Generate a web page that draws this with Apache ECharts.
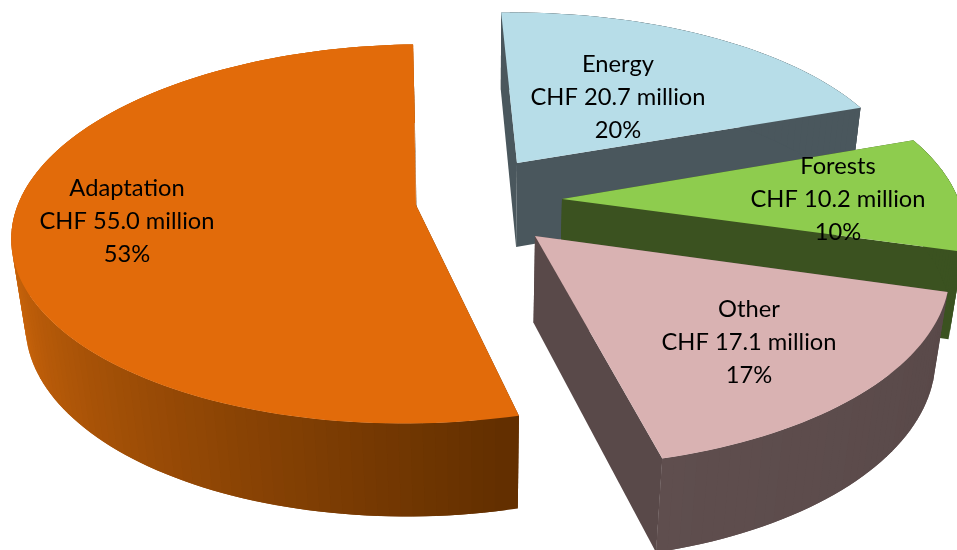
<!DOCTYPE html>
<html><head><meta charset="utf-8">
<style>html,body{margin:0;padding:0;background:#fff}#c{width:957px;height:550px}</style>
<script src="https://cdn.jsdelivr.net/npm/echarts@6/dist/echarts.min.js"></script>
</head><body><div id="c"></div>
<script>
// Data (clockwise from the top of the pie)
const categories = ['Energy', 'Forests', 'Other', 'Adaptation'];
const amounts = [20.7, 10.2, 17.1, 55.0];
const percents = ['20%', '10%', '17%', '53%'];

// Styling
const topColors = ['#B7DDE8', '#8ECC4E', '#D9B2B2', '#E26B0A'];
const wallFrom = ['#4A575D', '#3B5220', '#594949', '#622F00'];
const wallTo = ['#4A575D', '#3B5220', '#5F4E4E', '#CC650B'];
const radialWall = ['#4A575D', '#3B5220', '#594949', '#622F00'];
const apexes = [[517, 163], [562, 199], [535, 236], [416, 205]];
const labelAt = [[618, 97], [838, 199], [749, 342], [127, 221]];
const drawOrder = [3, 0, 1, 2];

// Projection of the pie plane
const CX = 485, CY = 201, RX = 397, SY = 184, P = 0.152, Q = 0.03, DEPTH = 88, START = -2;
const total = amounts.reduce((a, b) => a + b, 0);
function project(u, v, z) {
  const w = 1 - P * v + Q * z;
  return [CX + RX * u / w, CY + (SY * v + DEPTH * z) / w];
}
function toDisc(p) {
  const a = (p[1] - CY) / SY, v = a / (1 + P * a);
  return [(p[0] - CX) / RX * (1 - P * v), v];
}
let acc = START;
const spans = amounts.map(x => { const s = acc; acc += x / total * 360; return [s, acc]; });

function renderItem(params, api) {
  const i = drawOrder[params.dataIndex];
  const [a0, a1] = spans[i];
  const [u0, v0] = toDisc(apexes[i]);
  const rim = d => { const t = d * Math.PI / 180; return [u0 + Math.sin(t), v0 - Math.cos(t)]; };
  const steps = Math.ceil((a1 - a0) / 1.5);
  const angs = []; for (let k = 0; k <= steps; k++) angs.push(a0 + (a1 - a0) * k / steps);
  const children = [];
  const poly = (pts, color) => children.push({
    type: 'polygon', shape: { points: pts }, style: { fill: color }, silent: true
  });
  const top = uv => project(uv[0], uv[1], 0), bot = uv => project(uv[0], uv[1], 1);
  const apex = [u0, v0], r0 = rim(a0), r1 = rim(a1);
  // radial walls
  poly([top(apex), top(r0), bot(r0), bot(apex)], radialWall[i]);
  poly([top(apex), top(r1), bot(r1), bot(apex)], radialWall[i]);
  // outer wall: each strip overlaps the next one so no seams show
  for (let k = steps - 1; k >= 0; k--) {
    const A = rim(angs[k]), B = rim(angs[Math.min(k + 2, steps)]);
    const mid = (angs[k] + angs[k + 1]) / 2;
    const t = Math.max(0, Math.min(1, (mid - a0) / Math.min(a1 - a0, 90)));
    poly([top(A), top(B), bot(B), bot(A)], echarts.color.lerp(t, [wallFrom[i], wallTo[i]]));
  }
  // top face
  const face = [top(apex)].concat(angs.map(d => top(rim(d))));
  poly(face, topColors[i]);
  // label
  children.push({
    type: 'text', z2: 100, silent: true,
    style: {
      x: labelAt[i][0], y: labelAt[i][1],
      text: categories[i] + '\nCHF ' + amounts[i].toFixed(1) + ' million\n' + percents[i],
      font: '23.7px Lato, "Open Sans", sans-serif', lineHeight: 33,
      fill: '#000', align: 'center', verticalAlign: 'middle'
    }
  });
  return { type: 'group', children };
}

const chart = echarts.init(document.getElementById('c'));
chart.setOption({
  animation: false,
  series: [{
    type: 'custom', coordinateSystem: 'none', renderItem, silent: true,
    data: drawOrder.map(i => ({ name: categories[i], value: amounts[i] }))
  }]
});
</script></body></html>
